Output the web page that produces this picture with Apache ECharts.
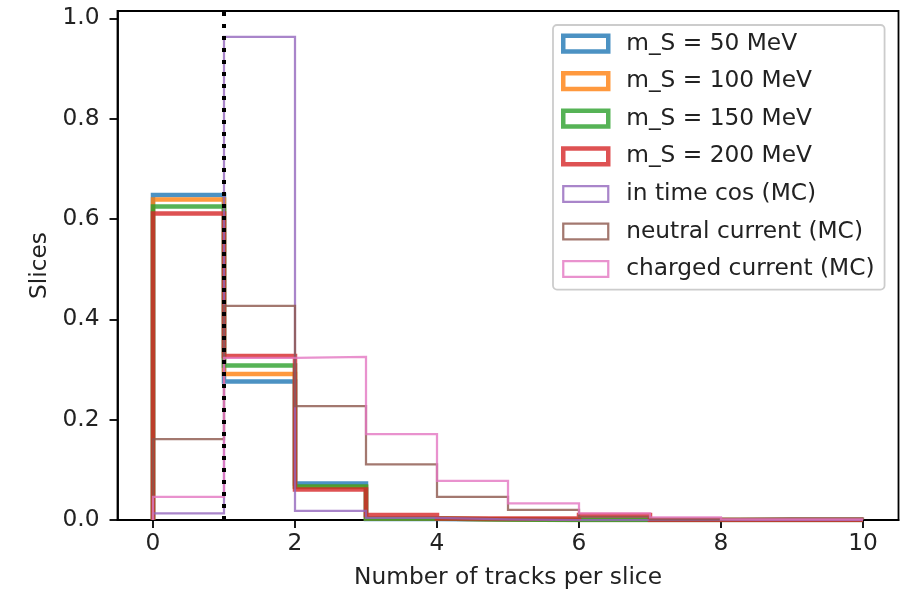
<!DOCTYPE html>
<html>
<head>
<meta charset="utf-8">
<script src="https://cdn.jsdelivr.net/npm/echarts@6/dist/echarts.min.js"></script>
<style>
  html, body { margin: 0; padding: 0; background: #ffffff; }
  #chart { width: 918px; height: 594px; }
</style>
</head>
<body>
<div id="chart"></div>
<script>
// Histogram bin edges: number of tracks per slice, unit-width bins 0..10
const binEdges = [0, 1, 2, 3, 4, 5, 6, 7, 8, 9, 10];

// Normalised slice fractions per bin
const mS50  = [0.648, 0.276, 0.073, 0.002, 0.001, 0, 0, 0, 0, 0];
const mS100 = [0.639, 0.291, 0.066, 0.003, 0.001, 0, 0, 0, 0, 0];
const mS150 = [0.625, 0.308, 0.067, 0.003, 0.001, 0, 0, 0, 0, 0];
const mS200 = [0.611, 0.327, 0.061, 0.010, 0.003, 0.003, 0.010, 0, 0, 0];
const inTimeCos      = [0.013, 0.963, 0.018, 0.004, 0.001, 0, 0, 0, 0, 0];
const neutralCurrent = [0.161, 0.427, 0.227, 0.111, 0.046, 0.020, 0.006, 0.001, 0.003, 0.003];
const chargedCurrent = [0.046, 0.323, 0.325, 0.171, 0.078, 0.033, 0.013, 0.005, 0.001, 0.001];

const seriesNames = [
  'm_S = 50 MeV', 'm_S = 100 MeV', 'm_S = 150 MeV', 'm_S = 200 MeV',
  'in time cos (MC)', 'neutral current (MC)', 'charged current (MC)'
];
const seriesValues = [mS50, mS100, mS150, mS200, inTimeCos, neutralCurrent, chargedCurrent];

// Selection cut on the track count
const cutTracks = 1;

// Axis ticks
const xTicks = [0, 2, 4, 6, 8, 10];
const yTicks = [0, 0.2, 0.4, 0.6, 0.8, 1.0];

const xLimits = [-0.5, 10.5];
const yLimits = [0, 1.0146];

const colors = [
  'rgba(31,119,180,0.8)', 'rgba(255,127,14,0.8)', 'rgba(44,160,44,0.8)', 'rgba(214,39,40,0.8)',
  'rgba(148,103,189,0.8)', 'rgba(140,86,75,0.8)', 'rgba(227,119,194,0.8)'
];
const widths = [4.5, 4.5, 4.5, 4.5, 2.25, 2.25, 2.25];

const FONT = 'DejaVu Sans';
const FONT_SIZE = 23.3;
const TEXT = '#222222';

// Outline of an unfilled step histogram: up from the baseline, across each bin, back down
function stepOutline(values) {
  const pts = [[binEdges[0], 0]];
  values.forEach((v, i) => {
    pts.push([binEdges[i], v]);
    pts.push([binEdges[i + 1], v]);
  });
  pts.push([binEdges[binEdges.length - 1], 0]);
  return pts;
}

const series = seriesValues.map((vals, i) => ({
  name: seriesNames[i],
  type: 'line',
  data: stepOutline(vals),
  showSymbol: false,
  symbol: 'none',
  silent: true,
  animation: false,
  lineStyle: { color: colors[i], width: widths[i], join: 'miter', cap: 'butt' },
  z: 2 + i
}));

series.push({
  name: 'cut',
  type: 'line',
  data: [[cutTracks, yLimits[0]], [cutTracks, yLimits[1]]],
  showSymbol: false,
  symbol: 'none',
  silent: true,
  animation: false,
  lineStyle: { color: '#000000', width: 4, type: [4, 8], cap: 'butt' },
  z: 20
});

const chart = echarts.init(document.getElementById('chart'), null, { renderer: 'canvas' });
chart.setOption({
  animation: false,
  backgroundColor: '#ffffff',
  textStyle: { fontFamily: FONT },
  grid: {
    left: 117.5, right: 19.5, top: 11, bottom: 74,
    show: true, borderColor: '#000000', borderWidth: 1.8,
    outerBoundsMode: 'none'
  },
  xAxis: {
    type: 'value',
    min: xLimits[0], max: xLimits[1],
    axisLine: { show: true, onZero: false, lineStyle: { color: '#000000', width: 1.8 } },
    axisTick: { show: true, length: 8, lineStyle: { color: '#000000', width: 1.8 }, customValues: xTicks },
    axisLabel: {
      customValues: xTicks, formatter: v => String(v),
      fontFamily: FONT, fontSize: FONT_SIZE, color: TEXT, margin: 12
    },
    splitLine: { show: false },
    name: 'Number of tracks per slice',
    nameLocation: 'middle',
    nameGap: 46,
    nameTextStyle: { fontFamily: FONT, fontSize: FONT_SIZE, color: TEXT }
  },
  yAxis: {
    type: 'value',
    min: yLimits[0], max: yLimits[1],
    axisLine: { show: true, onZero: false, lineStyle: { color: '#000000', width: 1.8 } },
    axisTick: { show: true, length: 8, lineStyle: { color: '#000000', width: 1.8 }, customValues: yTicks },
    axisLabel: {
      customValues: yTicks, formatter: v => v.toFixed(1),
      fontFamily: FONT, fontSize: FONT_SIZE, color: TEXT, margin: 18
    },
    splitLine: { show: false },
    name: 'Slices',
    nameLocation: 'middle',
    nameGap: 62,
    nameTextStyle: { fontFamily: FONT, fontSize: FONT_SIZE, color: TEXT }
  },
  legend: {
    orient: 'vertical',
    left: 553, top: 25,
    padding: [7, 10, 9, 8],
    itemGap: 14.6,
    itemWidth: 45,
    itemHeight: 15.75,
    icon: 'rect',
    selectedMode: false,
    backgroundColor: 'rgba(255,255,255,0.8)',
    borderColor: '#cccccc',
    borderWidth: 1.8,
    borderRadius: 4,
    textStyle: { fontFamily: FONT, fontSize: FONT_SIZE, color: TEXT, lineHeight: 20, padding: [0, 0, 0, 13] },
    data: seriesNames.map((n, i) => ({
      name: n,
      icon: 'rect',
      itemStyle: { color: 'rgba(0,0,0,0)', borderColor: colors[i], borderWidth: widths[i] }
    }))
  },
  series: series
});
</script>
</body>
</html>
